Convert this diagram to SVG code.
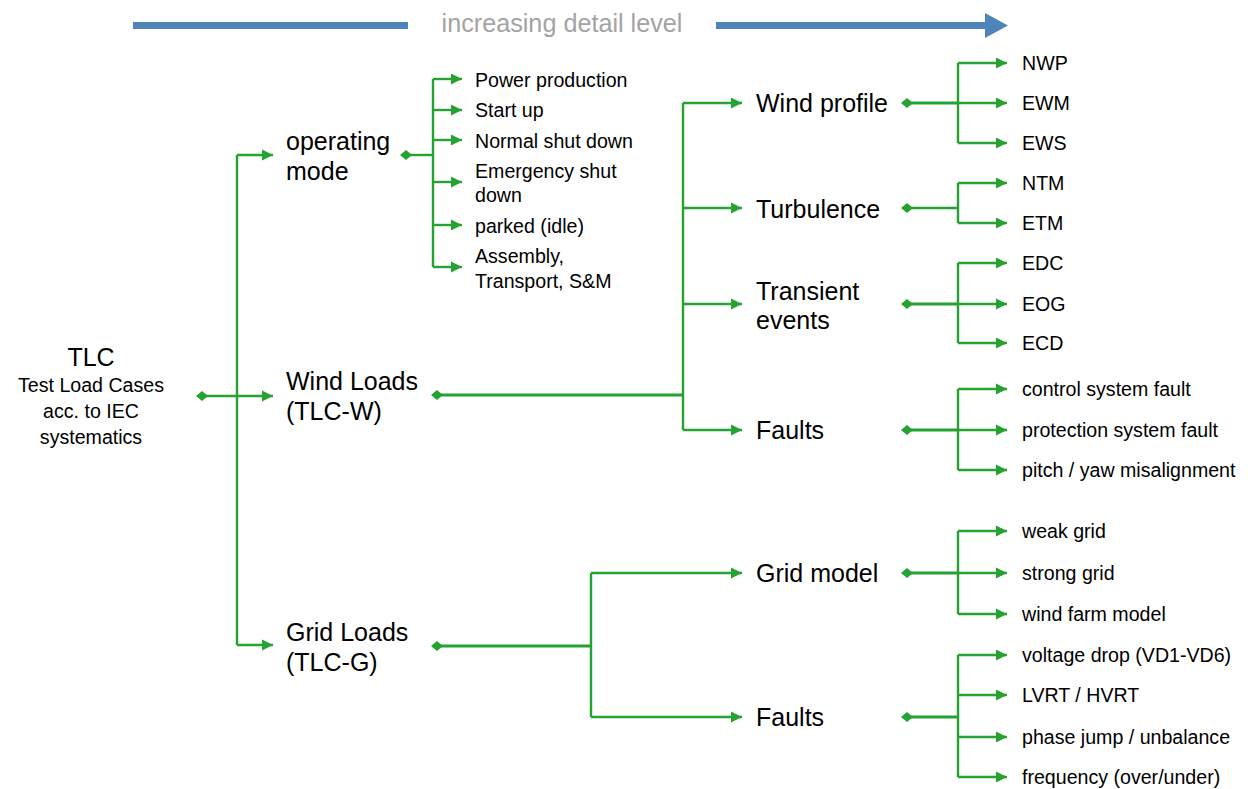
<svg xmlns="http://www.w3.org/2000/svg" width="1248" height="789" viewBox="0 0 1248 789">
<defs>
<marker id="arr" markerUnits="userSpaceOnUse" markerWidth="12" markerHeight="12" refX="11" refY="6" orient="auto"><path d="M0,0.5 L11,6 L0,11.5 z" fill="#25a232"/></marker>
<marker id="dia" markerUnits="userSpaceOnUse" markerWidth="14" markerHeight="14" refX="7" refY="7" orient="auto"><path d="M1,7 L7,2 L13,7 L7,12 z" fill="#25a232"/></marker>
</defs>
<style>
.c{fill:none;stroke:#25a232;stroke-width:2.4}
.t{stroke-width:3}
.a{marker-end:url(#arr)}
.d{marker-start:url(#dia)}
.big{font-family:"Liberation Sans",Arial,sans-serif;font-size:25px;fill:#000}
.sm{font-family:"Liberation Sans",Arial,sans-serif;font-size:19.6px;fill:#000}
.hdr{font-family:"Liberation Sans",Arial,sans-serif;font-size:25.2px;fill:#a3a3a3}
</style>
<rect width="1248" height="789" fill="#fff"/>
<g id="header">
<rect x="133" y="22" width="275" height="7" fill="#4f84b8"/>
<rect x="716" y="22" width="271" height="7" fill="#4f84b8"/>
<polygon points="985,13 1008,25.5 985,38" fill="#4f84b8"/>
<text class="hdr" x="562" y="32" text-anchor="middle">increasing detail level</text>
</g>
<g id="connectors">
<path class="c d a" d="M202,396 H273"/>
<path class="c" d="M237,155 V645"/>
<path class="c a" d="M237,155 H273"/>
<path class="c a" d="M237,645 H273"/>

<path class="c d" d="M406,155 H433"/>
<path class="c" d="M433,79 V267"/>
<path class="c a" d="M433,79 H462"/>
<path class="c a" d="M433,110 H462"/>
<path class="c a" d="M433,140 H462"/>
<path class="c a" d="M433,182 H462"/>
<path class="c a" d="M433,225 H462"/>
<path class="c a" d="M433,267 H462"/>

<path class="c t d" d="M437,395 H683"/>
<path class="c" d="M683,103 V430"/>
<path class="c a" d="M683,103 H742"/>
<path class="c a" d="M683,208 H742"/>
<path class="c a" d="M683,304 H742"/>
<path class="c a" d="M683,430 H742"/>

<path class="c t d" d="M437,646 H591"/>
<path class="c" d="M591,573 V717"/>
<path class="c a" d="M591,573 H742"/>
<path class="c a" d="M591,717 H742"/>

<path class="c t d" d="M907,103 H958"/>
<path class="c" d="M958,63 V143"/>
<path class="c a" d="M958,63 H1007"/>
<path class="c a" d="M958,103 H1007"/>
<path class="c a" d="M958,143 H1007"/>

<path class="c d" d="M907,208 H958"/>
<path class="c" d="M958,183 V223"/>
<path class="c a" d="M958,183 H1007"/>
<path class="c a" d="M958,223 H1007"/>

<path class="c t d" d="M907,304 H958"/>
<path class="c" d="M958,263 V343"/>
<path class="c a" d="M958,263 H1007"/>
<path class="c a" d="M958,304 H1007"/>
<path class="c a" d="M958,343 H1007"/>

<path class="c t d" d="M907,430 H958"/>
<path class="c" d="M958,389 V470"/>
<path class="c a" d="M958,389 H1007"/>
<path class="c a" d="M958,430 H1007"/>
<path class="c a" d="M958,470 H1007"/>

<path class="c t d" d="M907,573 H958"/>
<path class="c" d="M958,531 V614"/>
<path class="c a" d="M958,531 H1007"/>
<path class="c a" d="M958,573 H1007"/>
<path class="c a" d="M958,614 H1007"/>

<path class="c t d" d="M907,717 H958"/>
<path class="c" d="M958,655 V777"/>
<path class="c a" d="M958,655 H1007"/>
<path class="c a" d="M958,695 H1007"/>
<path class="c a" d="M958,737 H1007"/>
<path class="c a" d="M958,777 H1007"/>
</g>
<g id="tlc" text-anchor="middle">
<text class="big" x="91" y="366">TLC</text>
<text class="sm" x="91" y="392">Test Load Cases</text>
<text class="sm" x="91" y="418">acc. to IEC</text>
<text class="sm" x="91" y="444">systematics</text>
</g>
<g id="operating-mode"><text class="big" x="286" y="150">operating</text><text class="big" x="286" y="180">mode</text></g>
<g id="wind-loads"><text class="big" x="286" y="390">Wind Loads</text><text class="big" x="286" y="420">(TLC-W)</text></g>
<g id="grid-loads"><text class="big" x="286" y="641">Grid Loads</text><text class="big" x="286" y="671">(TLC-G)</text></g>
<g id="op-items">
<text class="sm" x="475" y="87">Power production</text>
<text class="sm" x="475" y="117">Start up</text>
<text class="sm" x="475" y="148">Normal shut down</text>
<text class="sm" x="475" y="178">Emergency shut</text>
<text class="sm" x="475" y="202">down</text>
<text class="sm" x="475" y="233">parked (idle)</text>
<text class="sm" x="475" y="263">Assembly,</text>
<text class="sm" x="475" y="288">Transport, S&amp;M</text>
</g>
<g id="wind-profile"><text class="big" x="756" y="112">Wind profile</text></g>
<g id="turbulence"><text class="big" x="756" y="218">Turbulence</text></g>
<g id="transient"><text class="big" x="756" y="300">Transient</text><text class="big" x="756" y="329">events</text></g>
<g id="wind-faults"><text class="big" x="756" y="439">Faults</text></g>
<g id="grid-model"><text class="big" x="756" y="582">Grid model</text></g>
<g id="grid-faults"><text class="big" x="756" y="726">Faults</text></g>
<g id="leaves">
<text class="sm" x="1022" y="70">NWP</text>
<text class="sm" x="1022" y="110">EWM</text>
<text class="sm" x="1022" y="150">EWS</text>
<text class="sm" x="1022" y="190">NTM</text>
<text class="sm" x="1022" y="230">ETM</text>
<text class="sm" x="1022" y="270">EDC</text>
<text class="sm" x="1022" y="311">EOG</text>
<text class="sm" x="1022" y="350">ECD</text>
<text class="sm" x="1022" y="396">control system fault</text>
<text class="sm" x="1022" y="437">protection system fault</text>
<text class="sm" x="1022" y="477">pitch / yaw misalignment</text>
<text class="sm" x="1022" y="538">weak grid</text>
<text class="sm" x="1022" y="580">strong grid</text>
<text class="sm" x="1022" y="621">wind farm model</text>
<text class="sm" x="1022" y="662">voltage drop (VD1-VD6)</text>
<text class="sm" x="1022" y="702">LVRT / HVRT</text>
<text class="sm" x="1022" y="744">phase jump / unbalance</text>
<text class="sm" x="1022" y="784">frequency (over/under)</text>
</g>
</svg>
